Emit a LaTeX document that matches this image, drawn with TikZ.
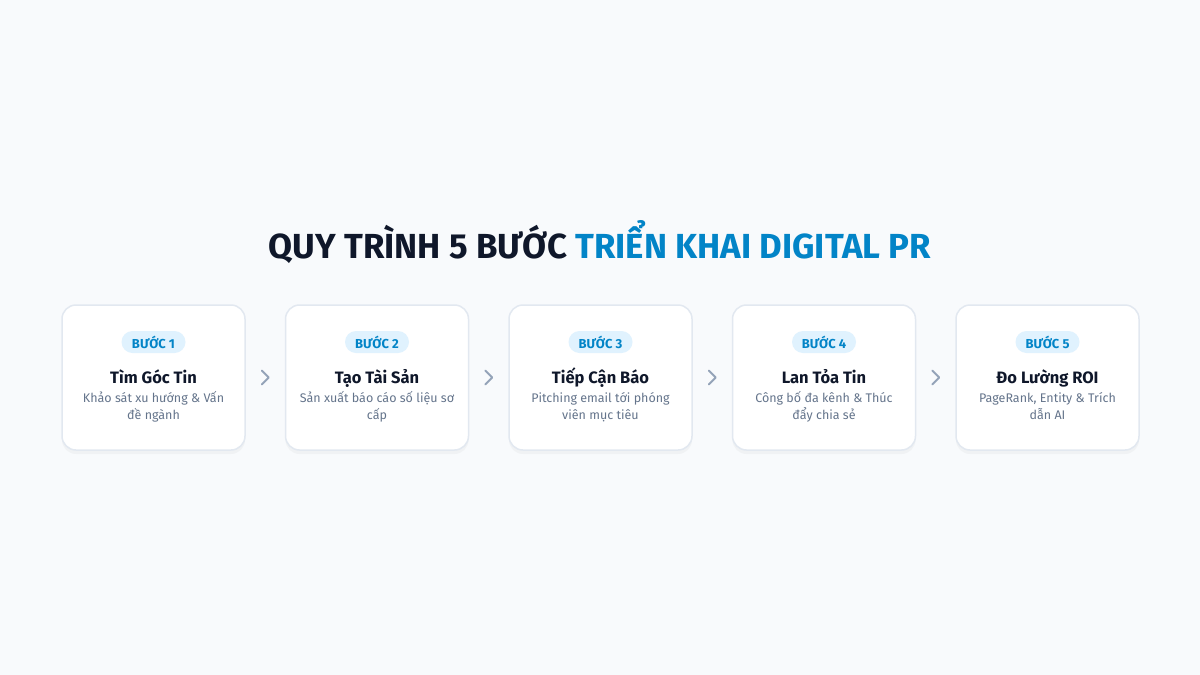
\documentclass[tikz,border=0pt]{standalone}
\usepackage{fontspec}
\setmainfont{Fira Sans}
\usetikzlibrary{shadows,calc}
\definecolor{bgc}{HTML}{F8FAFC}
\definecolor{navy}{HTML}{0F172A}
\definecolor{accent}{HTML}{0284C7}
\definecolor{badgebg}{HTML}{E0F2FE}
\definecolor{cardline}{HTML}{E2E8F0}
\definecolor{desc}{HTML}{64748B}
\definecolor{chev}{HTML}{94A3B8}
\tikzset{
  card/.style={draw=cardline, line width=1.5pt, fill=white, rounded corners=14pt,
    minimum width=183pt, minimum height=145pt,
    drop shadow={opacity=0.06, shadow xshift=0pt, shadow yshift=-4pt}},
  badge/.style={fill=badgebg, rounded corners=11pt, minimum width=64pt, minimum height=22pt,
    inner sep=0pt, text=accent, font=\fontsize{13}{14}\selectfont\bfseries},
  steptitle/.style={text=navy, anchor=base, font=\fontsize{16.5}{18}\selectfont\bfseries},
  stepdesc/.style={text=desc, align=center, anchor=base, font=\fontsize{12.5}{17}\selectfont},
  chevron/.style={draw=chev, line width=2pt, line cap=round, line join=round},
}
\begin{document}
\begin{tikzpicture}[x=1pt,y=-1pt]
\fill[bgc] (0,0) rectangle (1200,675);
\useasboundingbox (0,0) rectangle (1200,675);
\node[font=\fontsize{34.8}{40}\selectfont\bfseries, text=navy] (head) at (600,242)
  {QUY TRÌNH 5 BƯỚC \textcolor{accent}{TRIỂN KHAI DIGITAL PR}};
\foreach \i/\x/\t/\d in {
  1/153.5/{Tìm Góc Tin}/{Khảo sát xu hướng \& Vấn\\đề ngành},
  2/377/{Tạo Tài Sản}/{Sản xuất báo cáo số liệu sơ\\cấp},
  3/600.5/{Tiếp Cận Báo}/{Pitching email tới phóng\\viên mục tiêu},
  4/824/{Lan Tỏa Tin}/{Công bố đa kênh \& Thúc\\đẩy chia sẻ},
  5/1047.5/{Đo Lường ROI}/{PageRank, Entity \& Trích\\dẫn AI}} {
  \node[card] (c\i) at (\x,377.5) {};
  \node[badge] (b\i) at (\x,342) {BƯỚC \i};
  \node[steptitle] (t\i) at (\x,383) {\t};
  \node[stepdesc] (d\i) at (\x,419) {\d};
}
\foreach \a/\b in {1/2,2/3,3/4,4/5} {
  \coordinate (m\a) at ($(c\a.east)!0.5!(c\b.west)$);
  \draw[chevron] ($(m\a)+(-3.5,-7)$) -- ($(m\a)+(3.5,0)$) -- ($(m\a)+(-3.5,7)$);
}
\end{tikzpicture}
\end{document}
